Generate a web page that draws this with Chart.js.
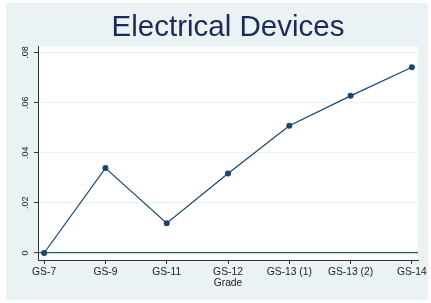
<!DOCTYPE html>
<html>
<head>
<meta charset="utf-8">
<script src="https://cdn.jsdelivr.net/npm/chart.js@4"></script>
<style>
  html, body { margin: 0; padding: 0; background: #fff; }
  #wrap { width: 431px; height: 303px; }
</style>
</head>
<body>
<div id="wrap"><canvas id="myChart" width="431" height="303"></canvas></div>
<script>
const grades = ["GS-7", "GS-9", "GS-11", "GS-12", "GS-13 (1)", "GS-13 (2)", "GS-14"];
const values = [0, 0.0339, 0.0119, 0.0317, 0.0508, 0.0627, 0.0741];
const yTicks = [0, 0.02, 0.04, 0.06, 0.08];

const navy = "#1a476f";
const panel = "#eaf2f3";

const backdrop = {
  id: "backdrop",
  beforeDraw(chart) {
    const c = chart.ctx;
    const a = chart.chartArea;
    c.save();
    c.fillStyle = "#ffffff";
    c.fillRect(0, 0, chart.width, chart.height);
    c.fillStyle = panel;
    c.fillRect(6, 3, 422, 297);
    c.fillStyle = "#ffffff";
    c.fillRect(a.left, a.top, a.right - a.left, a.bottom - a.top);
    c.restore();
  }
};

const ctx = document.getElementById("myChart").getContext("2d");

const data = {
  datasets: [
    {
      data: grades.map((g, i) => ({ x: i, y: values[i] })),
      borderColor: navy,
      borderWidth: 1.2,
      backgroundColor: navy,
      pointRadius: 3,
      pointBorderWidth: 0,
      pointBackgroundColor: navy,
      tension: 0,
      clip: false
    }
  ]
};

const config = {
  type: "line",
  data: data,
  plugins: [backdrop],
  options: {
    responsive: false,
    animation: false,
    layout: { padding: { left: 6, right: 0, top: 0, bottom: 3 } },
    plugins: {
      legend: { display: false },
      tooltip: { enabled: false },
      title: {
        display: true,
        fullSize: false,
        text: "Electrical Devices",
        color: "#1c2b55",
        font: { family: "'Liberation Sans', Arial, sans-serif", size: 29.5, weight: "normal", lineHeight: 1 },
        padding: { top: 13, bottom: 4 }
      }
    },
    scales: {
      x: {
        type: "linear",
        min: -0.1,
        max: 6.1,
        afterBuildTicks: (scale) => {
          scale.ticks = grades.map((g, i) => ({ value: i }));
        },
        afterFit: (scale) => {
          scale.height = 40;
          scale.paddingLeft = 0;
          scale.paddingRight = 13;
        },
        grid: { drawOnChartArea: false, drawTicks: true, tickLength: 4, tickColor: "#333", tickWidth: 1 },
        border: { display: true, color: "#333", width: 1 },
        ticks: {
          color: "#222",
          padding: 2,
          autoSkip: false,
          maxRotation: 0,
          font: { family: "'Liberation Sans', Arial, sans-serif", size: 10.3 },
          callback: (v) => grades[v]
        },
        title: {
          display: true,
          text: "Grade",
          color: "#222",
          font: { family: "'Liberation Sans', Arial, sans-serif", size: 10.3 },
          padding: { top: 0, bottom: 11 }
        }
      },
      y: {
        min: -0.0028,
        max: 0.0824,
        afterBuildTicks: (scale) => {
          scale.ticks = yTicks.map((v) => ({ value: v }));
        },
        afterFit: (scale) => {
          scale.width = 32;
          scale.paddingTop = 0;
          scale.paddingBottom = 0;
        },
        grid: {
          color: (c) => (c.tick && c.tick.value === 0 ? "#2a5e5c" : panel),
          lineWidth: (c) => (c.tick && c.tick.value === 0 ? 1.2 : 1),
          drawTicks: true,
          tickLength: 4,
          tickColor: "#333",
          tickWidth: 1
        },
        border: { display: true, color: "#333", width: 1 },
        ticks: {
          color: "#222",
          padding: 2,
          minRotation: 90,
          maxRotation: 90,
          crossAlign: "center",
          font: { family: "'Liberation Sans', Arial, sans-serif", size: 9 },
          callback: (v) => (v === 0 ? "0" : v.toFixed(2).replace(/^0/, ""))
        }
      }
    }
  }
};

const myChart = new Chart(ctx, config);
</script>
</body>
</html>
